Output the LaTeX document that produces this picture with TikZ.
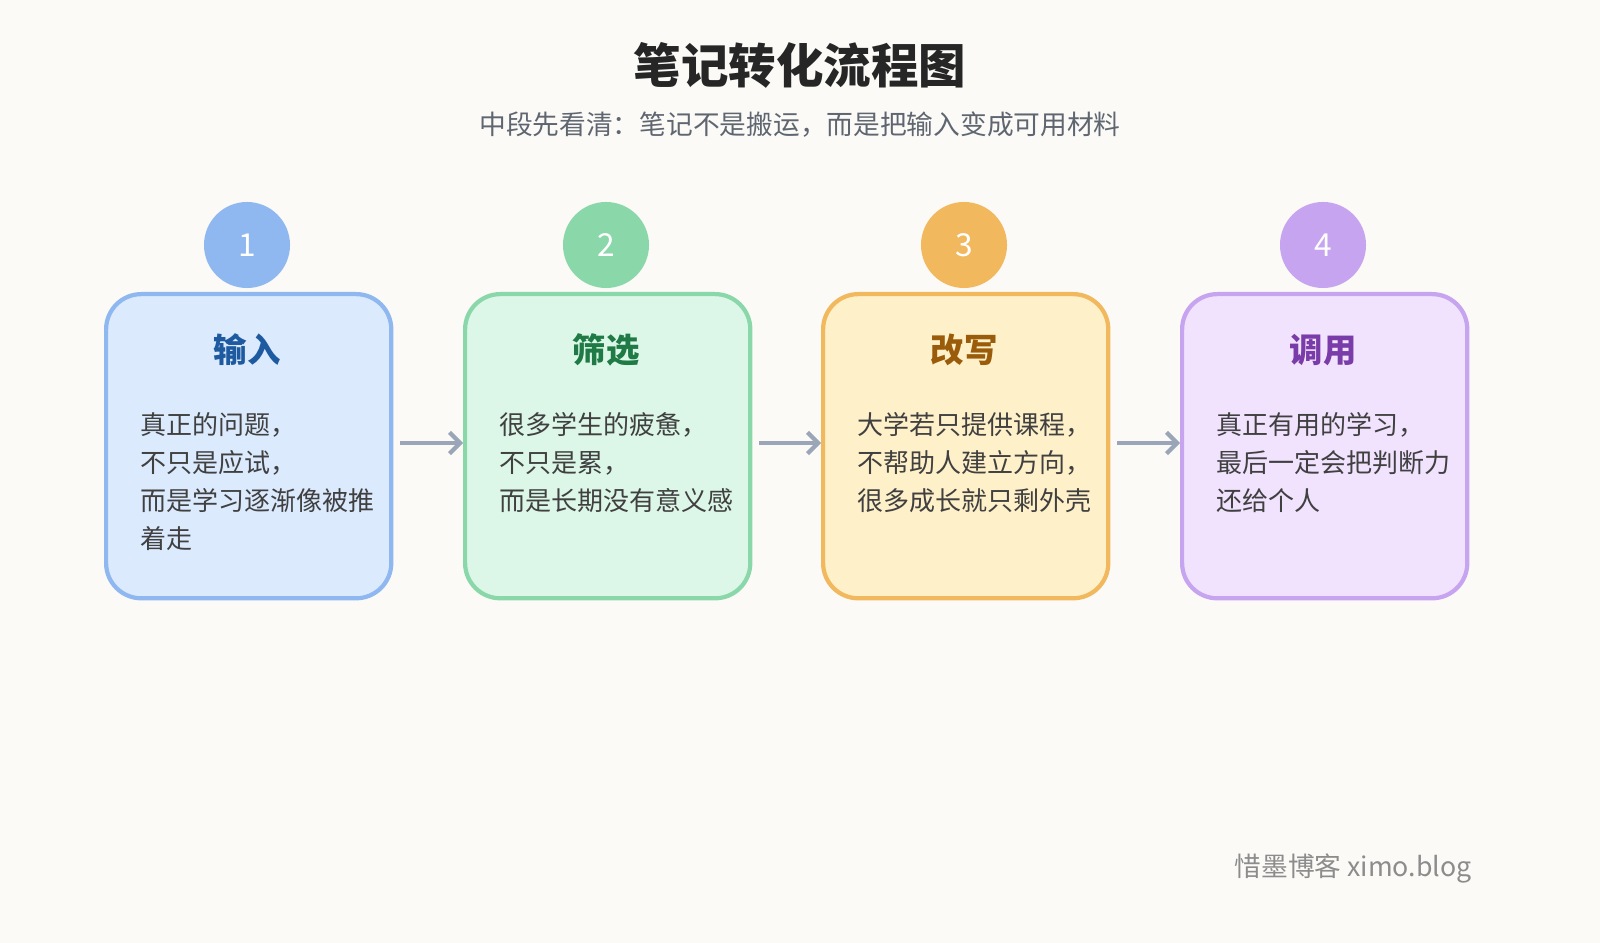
\documentclass[tikz,border=0pt]{standalone}
\usepackage{fontspec}
\setmainfont{Noto Sans CJK SC}
\usetikzlibrary{arrows.meta}
\definecolor{bgc}{HTML}{FBFAF7}
\definecolor{cblue}{HTML}{8FB8F0}\definecolor{fblue}{HTML}{DCEAFE}\definecolor{tblue}{HTML}{1E5AA0}
\definecolor{cgreen}{HTML}{8AD8AA}\definecolor{fgreen}{HTML}{DCF7E8}\definecolor{tgreen}{HTML}{1F7A45}
\definecolor{corange}{HTML}{F2B85E}\definecolor{forange}{HTML}{FEF0C8}\definecolor{torange}{HTML}{9A5C0A}
\definecolor{cpurple}{HTML}{C7A4EF}\definecolor{fpurple}{HTML}{F1E3FE}\definecolor{tpurple}{HTML}{7A3CA8}
\definecolor{linkc}{HTML}{9AA6B8}
\definecolor{subc}{HTML}{5F6670}
\tikzset{
	stepbox/.style={draw=c#1, fill=f#1, line width=1.2pt, rounded corners=10pt,
		minimum width=2.85cm, minimum height=3.04cm, anchor=north west},
	badge/.style={circle, fill=c#1, minimum size=0.86cm, text=white, font=\fontsize{9}{10}\selectfont},
	head/.style={font=\fontsize{9.5}{11}\selectfont\bfseries, text=t#1},
	body/.style={font=\fontsize{7.4}{10.8}\selectfont, text=black!75, align=left, anchor=north west},
	link/.style={draw=linkc, line width=1.2pt, -{Straight Barb[length=3pt]}}
}
\begin{document}
\begin{tikzpicture}[x=0.01cm,y=-0.01cm]
	\fill[bgc] (0,0) rectangle (1600,943);
	\node[font=\fontsize{13.5}{15}\selectfont\bfseries, text=black!85] (title) at (800,65) {笔记转化流程图};
	\node[font=\fontsize{7.6}{9}\selectfont, text=subc] (sub) at (800,125) {中段先看清：笔记不是搬运，而是把输入变成可用材料};
	%
	\node[stepbox=blue] (box1) at (104,292) {};
	\node[stepbox=green] (box2) at (463,292) {};
	\node[stepbox=orange] (box3) at (821,292) {};
	\node[stepbox=purple] (box4) at (1180,292) {};
	%
	\node[badge=blue] (n1) at (247,245) {1};
	\node[badge=green] (n2) at (606,245) {2};
	\node[badge=orange] (n3) at (964,245) {3};
	\node[badge=purple] (n4) at (1323,245) {4};
	%
	\node[head=blue] (h1) at (247,350) {输入};
	\node[head=green] (h2) at (606,350) {筛选};
	\node[head=orange] (h3) at (964,350) {改写};
	\node[head=purple] (h4) at (1323,350) {调用};
	%
	\node[body] (b1) at (128,400) {真正的问题，\\不只是应试，\\而是学习逐渐像被推\\着走};
	\node[body] (b2) at (487,400) {很多学生的疲惫，\\不只是累，\\而是长期没有意义感};
	\node[body] (b3) at (845,400) {大学若只提供课程，\\不帮助人建立方向，\\很多成长就只剩外壳};
	\node[body] (b4) at (1204,400) {真正有用的学习，\\最后一定会把判断力\\还给个人};
	%
	\path[link] (400,443) -- (box2.west |- 0,443);
	\path[link] (759,443) -- (box3.west |- 0,443);
	\path[link] (1117,443) -- (box4.west |- 0,443);
	%
	\node[font=\fontsize{7.6}{9}\selectfont, text=black!45, anchor=east] (mark) at (1484,868) {惜墨博客 ximo.blog};
\end{tikzpicture}
\end{document}
